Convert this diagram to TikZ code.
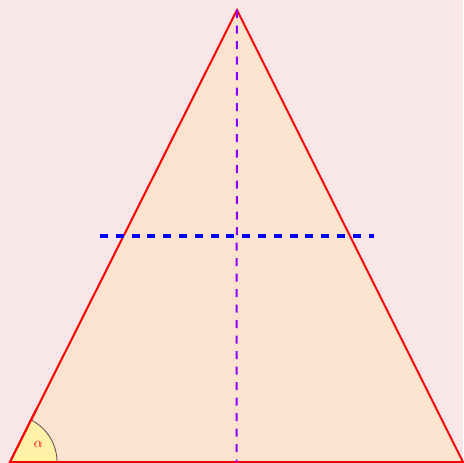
\documentclass[tikz,border=0pt]{standalone}
\usepackage{tikz}
\usetikzlibrary{positioning,calc}
\definecolor{bgpink}{RGB}{249,230,232}
\definecolor{peach}{RGB}{252,227,208}
\definecolor{angleyellow}{RGB}{255,241,165}
\definecolor{violetline}{RGB}{140,0,255}
\begin{document}
\begin{tikzpicture}[x=1pt,y=-1pt,
  side/.style={draw=red,line width=2pt,fill=peach,line join=miter},
  axis/.style={draw=violetline,line width=2pt,dash pattern=on 8pt off 7.5pt},
  level/.style={draw=blue,line width=4pt,dash pattern=on 8pt off 7.8pt},
  anglefill/.style={fill=angleyellow,draw=black!70,line width=0.8pt}]
\fill[bgpink] (0,0) rectangle (463,463);
\useasboundingbox (0,0) rectangle (463,463);
\coordinate (A) at (10,462);
\coordinate (B) at (463,462);
\coordinate (C) at (237,10);
\coordinate (M) at ($(A)!0.5!(B)$);
\coordinate (L) at (100,236);
\coordinate (R) at (374,236);
\path[side] (A) -- (B) -- (C) -- cycle;
\path[anglefill] (A) -- ++(47,0) arc[start angle=0,end angle=-63.3,radius=47] -- cycle;
\draw[red,line width=2pt] (A) -- (B);
\draw[red,line width=2pt] (A) -- ($(A)!0.12!(C)$);
\node[text=red,font=\fontsize{15}{17}\selectfont,inner sep=0pt] (alpha) at (38.5,444) {$\alpha$};
\draw[axis] (C) -- (M);
\draw[level] (L) -- (R);
\end{tikzpicture}
\end{document}
